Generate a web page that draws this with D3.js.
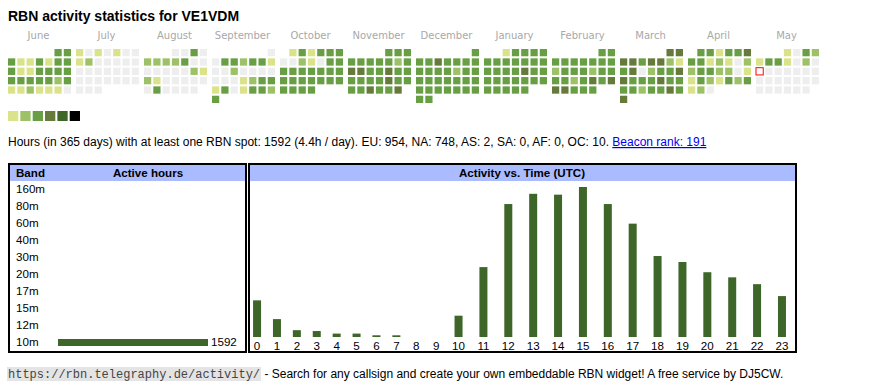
<!DOCTYPE html>
<html><head><meta charset="utf-8">
<script src="https://cdn.jsdelivr.net/npm/d3@7"></script>
<style>body{margin:0;background:#fff}svg{display:block}</style>
</head><body><svg id="c" width="870" height="390"></svg>
<script>
// ---------- DATA ----------
const monthNames = ["June","July","August","September","October","November","December","January","February","March","April","May"];
const monthYears = [2024,2024,2024,2024,2024,2024,2024,2025,2025,2025,2025,2025];
const monthIndex = [5,6,7,8,9,10,11,0,1,2,3,4];
// activity level per day (0 = none, 1..6 = legend steps)
const june = [3,3, 3,1,1,3,1,3,3, 3,1,1,3,3,3,3, 3,3,3,3,3,2,3, 1,1,2,1,1,1,0];
const july = [1,0,1,0,1,0,0, 1,2,0,0,0,0,0, 0,0,0,0,0,0,0, 0,0,0,0,0,0,0, 0,0,0];
const august = [0,0,3,0, 2,2,2,2,3,0,0, 0,0,0,0,0,2,1, 2,1,0,0,0,0,0, 0,3,0,0,0,0];
const september = [0, 0,3,3,2,3,3,1, 0,0,2,0,0,0,0, 0,0,0,1,2,3,3, 1,3,0,1,3,3,2, 3];
const october = [1,3,1,3,3,3, 0,0,2,1,0,3,3, 3,3,3,3,3,3,3, 3,3,3,3,3,3,3, 3,3,3,3];
const november = [3,3,3, 3,3,3,3,3,2,3, 4,4,3,3,4,3,3, 3,3,3,3,4,3,3, 3,3,4,3,3,4];
const december = [3, 3,3,4,3,3,3,3, 3,3,3,3,2,3,3, 3,3,3,3,3,3,3, 3,3,3,3,3,3,3, 3,3];
const january = [1,3,3,3,3, 3,3,3,3,3,3,3, 3,3,3,3,4,3,3, 3,3,3,3,3,3,3, 3,3,3,3,3];
const february = [3,3, 3,3,3,3,3,3,3, 2,3,3,3,2,3,3, 3,3,2,3,4,3,4, 4,4,3,3,3];
const march = [4,4, 4,4,3,4,4,2,1, 3,4,0,2,3,3,4, 4,3,3,3,4,3,3, 3,3,2,3,3,4,3, 4];
const april = [3,3,1,3,3,4, 3,3,1,2,1,0,2, 2,3,3,2,2,0,1, 1,3,2,1,3,2,3, 1,2,0];
const may = [1,0,3,2, 1,3,3,1,0,2,0, 0,0,0,0,0,0,0, 0,0,0,0,0,0,0, 0,0,0,0,0,0];
const monthLevels = [june,july,august,september,october,november,december,january,february,march,april,may];
const todayMonth = 11, todayDay = 12;
const levelColors = ["#eeeeee","#dae389","#9dc167","#689f44","#667a3b","#3d6628","#000000"];
const legendLevels = [1,2,3,4,5,6];

const bands = ["160m","80m","60m","40m","30m","20m","17m","15m","12m","10m"];
const bandHours = [0,0,0,0,0,0,0,0,0,1592];

const hours = ["0","1","2","3","4","5","6","7","8","9","10","11","12","13","14","15","16","17","18","19","20","21","22","23"];
const hourActivity = [43,21,8,7,4,4,2,2,0,0,25,82,156,168,167,176,156,133,95,88,76,70,62,48];

const titleText = "RBN activity statistics for VE1VDM";
const summaryText = "Hours (in 365 days) with at least one RBN spot: 1592 (4.4h / day). EU: 954, NA: 748, AS: 2, SA: 0, AF: 0, OC: 10. ";
const rankText = "Beacon rank: 191";
const footerUrl = "https://rbn.telegraphy.de/activity/";
const footerText = " - Search for any callsign and create your own embeddable RBN widget! A free service by DJ5CW.";

// ---------- DRAW ----------
const svg = d3.select("#c");
const SANS = "'Liberation Sans', Arial, sans-serif";
svg.append("rect").attr("width",870).attr("height",390).attr("fill","#fff");

svg.append("text").attr("x",8).attr("y",21).attr("font-family",SANS)
  .attr("font-weight","bold").attr("font-size",14).attr("fill","#000").text(titleText);

// calendar
const xMonth = d3.scaleBand().domain(monthNames).range([8, 8 + 12*68]);
const xDay = d3.scaleBand().domain(d3.range(7)).range([0, 63]).paddingInner(2/9).paddingOuter(0);
const yWeek = d3.scaleBand().domain(d3.range(6)).range([49, 49 + 54]).paddingInner(2/9).paddingOuter(0);
const cal = svg.append("g");
monthNames.forEach((m, i) => {
  const g = cal.append("g").attr("transform", `translate(${xMonth(m)},0)`);
  g.append("text").attr("x", 63/2 - 1).attr("y", 39).attr("text-anchor","middle")
    .attr("font-family","'DejaVu Sans', Verdana, sans-serif").attr("font-size",10).attr("fill","#a8a8a8").text(m);
  const offset = (new Date(monthYears[i], monthIndex[i], 1).getDay() + 6) % 7;
  const cells = monthLevels[i].map((lv, d) => ({lv, d: d+1, idx: offset + d}));
  g.selectAll("rect.day").data(cells).join("rect").attr("class","day")
    .attr("x", c => xDay(c.idx % 7)).attr("y", c => yWeek(Math.floor(c.idx / 7)))
    .attr("width", xDay.bandwidth()).attr("height", yWeek.bandwidth())
    .attr("fill", c => (i === todayMonth && c.d === todayDay) ? "#fff" : levelColors[c.lv])
    .attr("stroke", c => (i === todayMonth && c.d === todayDay) ? "#f00" : "none")
    .attr("stroke-width", 1);
});

// legend
const xLeg = d3.scaleBand().domain(legendLevels).range([8, 8 + 6*12]).paddingInner(2/12).paddingOuter(0);
svg.append("g").selectAll("rect").data(legendLevels).join("rect")
  .attr("x", d => xLeg(d)).attr("y", 111).attr("width", xLeg.bandwidth()).attr("height", 10)
  .attr("fill", d => levelColors[d]);

// summary line
const st = svg.append("text").attr("x",8).attr("y",146).attr("font-family",SANS).attr("font-size",12).attr("fill","#000")
  .attr("xml:space","preserve");
st.append("tspan").text(summaryText);
st.append("tspan").text(rankText).attr("fill","#0000ee").attr("text-decoration","underline");

// left box: bands
const lb = svg.append("g");
lb.append("rect").attr("x",9).attr("y",164).attr("width",237).attr("height",188)
  .attr("fill","#fff").attr("stroke","#000").attr("stroke-width",2);
lb.append("rect").attr("x",10).attr("y",165).attr("width",235).attr("height",16).attr("fill","#aabbff");
lb.append("text").attr("x",16).attr("y",177).attr("font-family",SANS).attr("font-weight","bold").attr("font-size",11.6).text("Band");
lb.append("text").attr("x",148).attr("y",177).attr("text-anchor","middle").attr("font-family",SANS).attr("font-weight","bold").attr("font-size",11.6).text("Active hours");
const yBand = d3.scalePoint().domain(bands).range([193, 346]);
const xBandBar = d3.scaleLinear().domain([0, d3.max(bandHours)]).range([0, 150]);
lb.selectAll("text.band").data(bands).join("text").attr("class","band")
  .attr("x",16).attr("y", d => yBand(d)).attr("font-family",SANS).attr("font-size",11.6).text(d => d);
const bandRows = bands.map((b, i) => ({b, v: bandHours[i]})).filter(d => d.v > 0);
lb.selectAll("rect.bar").data(bandRows).join("rect").attr("class","bar")
  .attr("x",58).attr("y", d => yBand(d.b) - 7).attr("width", d => xBandBar(d.v)).attr("height",7).attr("fill","#3d6628");
lb.selectAll("text.val").data(bandRows).join("text").attr("class","val")
  .attr("x", d => 58 + xBandBar(d.v) + 3).attr("y", d => yBand(d.b)).attr("font-family",SANS).attr("font-size",11.6).text(d => d.v);

// right box: activity vs time
const rb = svg.append("g");
rb.append("rect").attr("x",249).attr("y",164).attr("width",547).attr("height",188)
  .attr("fill","#fff").attr("stroke","#000").attr("stroke-width",2);
rb.append("rect").attr("x",250).attr("y",165).attr("width",545).attr("height",16).attr("fill","#aabbff");
rb.append("text").attr("x",522).attr("y",177).attr("text-anchor","middle").attr("font-family",SANS).attr("font-weight","bold").attr("font-size",11.6).text("Activity vs. Time (UTC)");
// table-like column widths (wider for two-digit labels)
const colW = hours.map(h => 20 + 6.67 * h.length);
const cum = d3.cumsum(colW);
const xCol = d3.scaleLinear().domain([0, cum[cum.length-1]]).range([247.1, 794.4]);
const xHour = d3.scaleOrdinal().domain(hours).range(hours.map((h, i) => xCol(cum[i] - colW[i]/2)));
const yAct = d3.scaleLinear().domain([0, d3.max(hourActivity)]).range([337, 187]);
rb.selectAll("rect.hbar").data(hours).join("rect").attr("class","hbar")
  .attr("x", h => xHour(h) - 4).attr("width", 8)
  .attr("y", (h, i) => yAct(hourActivity[i])).attr("height", (h, i) => yAct(0) - yAct(hourActivity[i]))
  .attr("fill","#3d6628");
rb.selectAll("text.hl").data(hours).join("text").attr("class","hl")
  .attr("x", h => xHour(h)).attr("y", 350).attr("text-anchor","middle")
  .attr("font-family",SANS).attr("font-size",11.6).text(h => h);

// footer
const ft = svg.append("g");
const urlText = ft.append("text").attr("x",8).attr("y",378).attr("font-family","'Liberation Mono', 'DejaVu Sans Mono', monospace").attr("font-size",12).attr("fill","#444").text(footerUrl);
const bb = urlText.node().getBBox();
ft.insert("rect","text").attr("x", bb.x - 1).attr("y", 367).attr("width", bb.width + 2).attr("height", 14).attr("fill","#e4e4e4");
ft.append("text").attr("x", bb.x + bb.width + 1).attr("y",378).attr("font-family",SANS).attr("font-size",12).attr("fill","#000")
  .attr("xml:space","preserve").text(footerText);
</script></body></html>
